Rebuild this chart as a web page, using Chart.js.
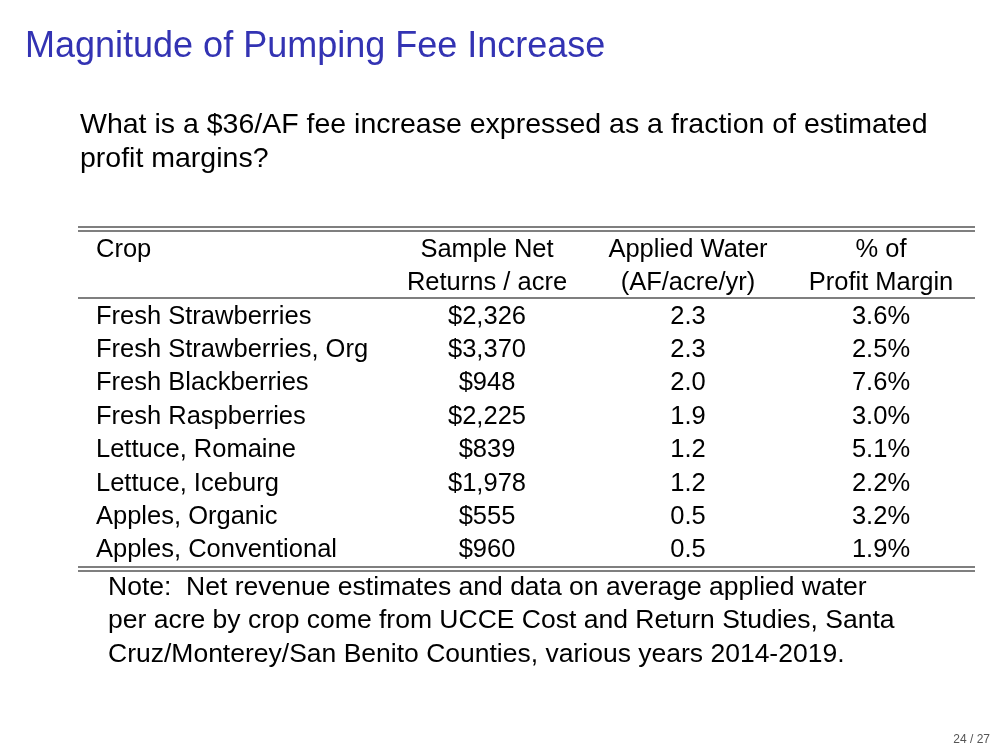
<!DOCTYPE html>
<html><head><meta charset="utf-8">
<script src="https://cdn.jsdelivr.net/npm/chart.js@4"></script>
<style>html,body{margin:0;padding:0;background:#fff}#c{display:block}</style>
</head><body>
<div style="width:1008px;height:756px"><canvas id="c"></canvas></div>
<script>
const crops=["Fresh Strawberries","Fresh Strawberries, Org","Fresh Blackberries","Fresh Raspberries","Lettuce, Romaine","Lettuce, Iceburg","Apples, Organic","Apples, Conventional"];
const netReturns=[2326,3370,948,2225,839,1978,555,960];
const appliedWater=[2.3,2.3,2.0,1.9,1.2,1.2,0.5,0.5];
const profitPct=[3.6,2.5,7.6,3.0,5.1,2.2,3.2,1.9];
const F="'Liberation Sans', 'DejaVu Sans', sans-serif";
const tablePlugin={id:'tbl',afterDraw(ch){
 const c=ch.ctx,y=ch.scales.y;
 c.save();c.textBaseline='middle';
 c.fillStyle='#3333B3';c.font='36px '+F;c.textAlign='left';
 c.fillText('Magnitude of Pumping Fee Increase',25,47);
 c.fillStyle='#000';c.font='28.5px '+F;
 c.fillText('What is a $36/AF fee increase expressed as a fraction of estimated',80,125);
 c.fillText('profit margins?',80,159);
 c.strokeStyle='#000';c.lineWidth=1.2;
 const line=(yy)=>{c.beginPath();c.moveTo(78,yy);c.lineTo(975,yy);c.stroke();};
 line(227);line(231);line(298);line(567);line(571);
 c.font='25.5px '+F;
 c.fillText('Crop',96,250);
 c.textAlign='center';
 [[487,'Sample Net','Returns / acre'],[688,'Applied Water','(AF/acre/yr)'],[881,'% of','Profit Margin']].forEach(h=>{c.fillText(h[1],h[0],250);c.fillText(h[2],h[0],283);});
 crops.forEach((cr,i)=>{const p=y.getPixelForValue(i)+2;
  c.textAlign='left';c.fillText(cr,96,p);
  c.textAlign='center';
  c.fillText('$'+netReturns[i].toLocaleString('en-US'),487,p);
  c.fillText(appliedWater[i].toFixed(1),688,p);
  c.fillText(profitPct[i].toFixed(1)+'%',881,p);});
 c.textAlign='left';c.font='26.5px '+F;
 c.fillText('Note:  Net revenue estimates and data on average applied water',108,588);
 c.fillText('per acre by crop come from UCCE Cost and Return Studies, Santa',108,621);
 c.fillText('Cruz/Monterey/San Benito Counties, various years 2014-2019.',108,655);
 c.fillStyle='#555';c.font='12px '+F;c.textAlign='right';
 c.fillText('24 / 27',990,740);
 c.restore();}};
new Chart(document.getElementById('c'),{type:'bar',
 data:{labels:crops,datasets:[{data:crops.map(()=>0),backgroundColor:'rgba(0,0,0,0)'}]},
 options:{indexAxis:'y',responsive:true,maintainAspectRatio:false,animation:false,
  layout:{padding:{top:298,bottom:191,left:0,right:0}},
  plugins:{legend:{display:false},tooltip:{enabled:false}},
  scales:{y:{display:false},x:{display:false}}},
 plugins:[tablePlugin]});
</script></body></html>
